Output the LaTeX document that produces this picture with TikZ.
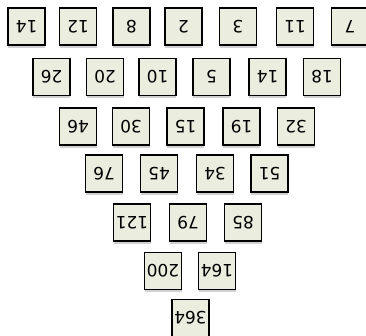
\documentclass[tikz,border=0pt]{standalone}
\usepackage{fontspec}
\setmainfont{DejaVu Sans}
\usetikzlibrary{shadows}
\definecolor{boxfill}{HTML}{EBEDDE}
\newcommand{\flipnum}[1]{\rotatebox[origin=c]{180}{#1}}
\tikzset{
  numbox/.style={draw=black, line width=1.7pt, fill=boxfill, minimum width=37pt, minimum height=37pt,
    inner sep=0pt, font=\fontsize{17}{17}\selectfont,
    drop shadow={shadow xshift=0pt, shadow yshift=-2.5pt, opacity=0.3, fill=black!60}},
}
\begin{document}
\begin{tikzpicture}[x=1pt,y=-1pt]
\useasboundingbox (0,0) rectangle (366,335);
\clip (0,0) rectangle (366,335);
% row 1
\foreach \t/\x [count=\i] in {14/26.5,12/78,8/131.5,2/183.5,3/238,11/295,7/350}
  \node[numbox] (a\i) at (\x,26.5) {\flipnum{\t}};
% row 2
\foreach \t/\x [count=\i] in {26/51.5,20/105,10/157.5,5/211.5,14/267.5,18/322}
  \node[numbox] (b\i) at (\x,77) {\flipnum{\t}};
% row 3
\foreach \t/\x [count=\i] in {46/78,30/131,15/185.5,19/241.5,32/296}
  \node[numbox] (c\i) at (\x,126.5) {\flipnum{\t}};
% row 4
\foreach \t/\x [count=\i] in {76/104,45/159,34/215,51/269.5}
  \node[numbox] (d\i) at (\x,173.5) {\flipnum{\t}};
% row 5
\foreach \t/\x [count=\i] in {121/132,79/188,85/243}
  \node[numbox] (e\i) at (\x,222.5) {\flipnum{\t}};
% row 6
\foreach \t/\x [count=\i] in {200/163,164/217}
  \node[numbox] (f\i) at (\x,271) {\flipnum{\t}};
% row 7
\node[numbox] (g1) at (190.5,318) {\flipnum{364}};
\end{tikzpicture}
\end{document}
